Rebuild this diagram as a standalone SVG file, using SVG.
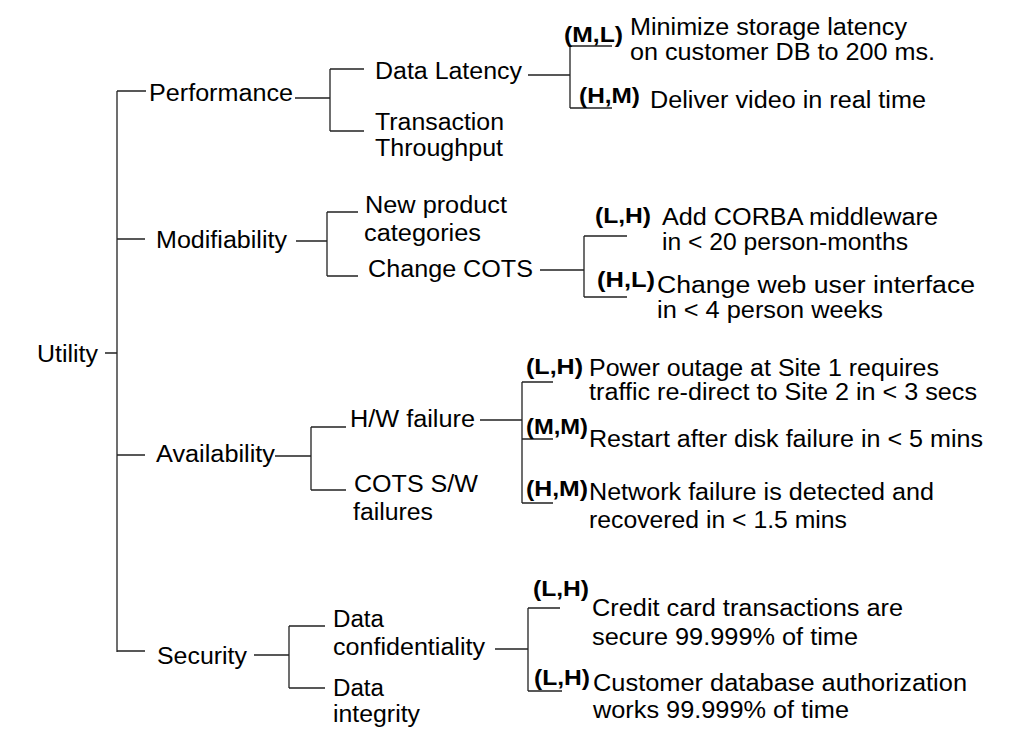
<svg xmlns="http://www.w3.org/2000/svg" width="1025" height="752" viewBox="0 0 1025 752">
<style>
text { font-family: "Liberation Sans", Arial, sans-serif; font-size: 23px; fill: #000; }
.b { font-weight: bold; font-size: 22px; }
.c path { fill: none; stroke: #222; stroke-width: 1.3; }
</style>
<rect width="1025" height="752" fill="#fff"/>
<g id="connectors" class="c">
<path d="M117,91 V652 M105,353 H117 M117,91 H146 M117,239 H145 M117,455 H145 M117,651 H145"/>
<path d="M295,98 H330 M330,69 V131 M330,69 H364 M330,131 H364"/>
<path d="M528,75 H570 M570,46 V108 M570,46 H612 M570,108 H612"/>
<path d="M296,241 H327 M327,212 V276 M327,212 H358 M327,276 H358"/>
<path d="M540,270 H584 M584,236 V297 M584,236 H627 M584,297 H627"/>
<path d="M275,456 H311 M311,427 V490 M311,427 H346 M311,490 H346"/>
<path d="M480,420 H522 M522,382 V503 M522,382 H553 M522,439 H553 M522,503 H553"/>
<path d="M254,655 H289 M289,626 V688 M289,626 H325 M289,688 H325"/>
<path d="M495,649 H528 M528,608 V691 M528,608 H560 M528,691 H562"/>
</g>
<g id="utility"><text x="37" y="362" textLength="61" lengthAdjust="spacingAndGlyphs">Utility</text></g>
<g id="performance"><text x="149" y="101" textLength="144" lengthAdjust="spacingAndGlyphs">Performance</text></g>
<g id="modifiability"><text x="156" y="248" textLength="131" lengthAdjust="spacingAndGlyphs">Modifiability</text></g>
<g id="availability"><text x="156" y="462" textLength="119" lengthAdjust="spacingAndGlyphs">Availability</text></g>
<g id="security"><text x="157" y="664" textLength="90" lengthAdjust="spacingAndGlyphs">Security</text></g>
<g id="data-latency"><text x="375" y="79" textLength="147" lengthAdjust="spacingAndGlyphs">Data Latency</text></g>
<g id="transaction-throughput"><text x="375" y="130" textLength="129" lengthAdjust="spacingAndGlyphs">Transaction</text><text x="375" y="156" textLength="128" lengthAdjust="spacingAndGlyphs">Throughput</text></g>
<g id="new-product"><text x="365" y="213" textLength="142" lengthAdjust="spacingAndGlyphs">New product</text><text x="364" y="241" textLength="117" lengthAdjust="spacingAndGlyphs">categories</text></g>
<g id="change-cots"><text x="368" y="277" textLength="165" lengthAdjust="spacingAndGlyphs">Change COTS</text></g>
<g id="hw-failure"><text x="350" y="427" textLength="125" lengthAdjust="spacingAndGlyphs">H/W failure</text></g>
<g id="cots-sw"><text x="354" y="492" textLength="124" lengthAdjust="spacingAndGlyphs">COTS S/W</text><text x="353" y="520" textLength="80" lengthAdjust="spacingAndGlyphs">failures</text></g>
<g id="data-confidentiality"><text x="333" y="627" textLength="51" lengthAdjust="spacingAndGlyphs">Data</text><text x="333" y="655" textLength="152" lengthAdjust="spacingAndGlyphs">confidentiality</text></g>
<g id="data-integrity"><text x="333" y="696" textLength="51" lengthAdjust="spacingAndGlyphs">Data</text><text x="333" y="722" textLength="87" lengthAdjust="spacingAndGlyphs">integrity</text></g>
<g id="leaf-storage"><text class="b" x="564" y="42" textLength="59" lengthAdjust="spacingAndGlyphs">(M,L)</text><text x="630" y="35" textLength="277" lengthAdjust="spacingAndGlyphs">Minimize storage latency</text><text x="630" y="60" textLength="305" lengthAdjust="spacingAndGlyphs">on customer DB to 200 ms.</text></g>
<g id="leaf-video"><text class="b" x="579" y="103" textLength="61" lengthAdjust="spacingAndGlyphs">(H,M)</text><text x="650" y="108" textLength="276" lengthAdjust="spacingAndGlyphs">Deliver video in real time</text></g>
<g id="leaf-corba"><text class="b" x="595" y="223" textLength="56" lengthAdjust="spacingAndGlyphs">(L,H)</text><text x="662" y="225" textLength="276" lengthAdjust="spacingAndGlyphs">Add CORBA middleware</text><text x="662" y="250" textLength="246" lengthAdjust="spacingAndGlyphs">in &lt; 20 person-months</text></g>
<g id="leaf-web"><text class="b" x="597" y="287" textLength="58" lengthAdjust="spacingAndGlyphs">(H,L)</text><text x="657" y="293" textLength="318" lengthAdjust="spacingAndGlyphs">Change web user interface</text><text x="657" y="318" textLength="226" lengthAdjust="spacingAndGlyphs">in &lt; 4 person weeks</text></g>
<g id="leaf-power"><text class="b" x="526" y="374" textLength="57" lengthAdjust="spacingAndGlyphs">(L,H)</text><text x="589" y="376" textLength="350" lengthAdjust="spacingAndGlyphs">Power outage at Site 1 requires</text><text x="589" y="400" textLength="388" lengthAdjust="spacingAndGlyphs">traffic re-direct to Site 2 in &lt; 3 secs</text></g>
<g id="leaf-disk"><text class="b" x="526" y="434" textLength="62" lengthAdjust="spacingAndGlyphs">(M,M)</text><text x="589" y="447" textLength="394" lengthAdjust="spacingAndGlyphs">Restart after disk failure in &lt; 5 mins</text></g>
<g id="leaf-network"><text class="b" x="526" y="496" textLength="62" lengthAdjust="spacingAndGlyphs">(H,M)</text><text x="589" y="500" textLength="345" lengthAdjust="spacingAndGlyphs">Network failure is detected and</text><text x="589" y="528" textLength="258" lengthAdjust="spacingAndGlyphs">recovered in &lt; 1.5 mins</text></g>
<g id="leaf-credit"><text class="b" x="533" y="596" textLength="56" lengthAdjust="spacingAndGlyphs">(L,H)</text><text x="592" y="616" textLength="311" lengthAdjust="spacingAndGlyphs">Credit card transactions are</text><text x="592" y="645" textLength="266" lengthAdjust="spacingAndGlyphs">secure 99.999% of time</text></g>
<g id="leaf-auth"><text class="b" x="534" y="685" textLength="56" lengthAdjust="spacingAndGlyphs">(L,H)</text><text x="593" y="691" textLength="374" lengthAdjust="spacingAndGlyphs">Customer database authorization</text><text x="593" y="718" textLength="256" lengthAdjust="spacingAndGlyphs">works 99.999% of time</text></g>
</svg>
